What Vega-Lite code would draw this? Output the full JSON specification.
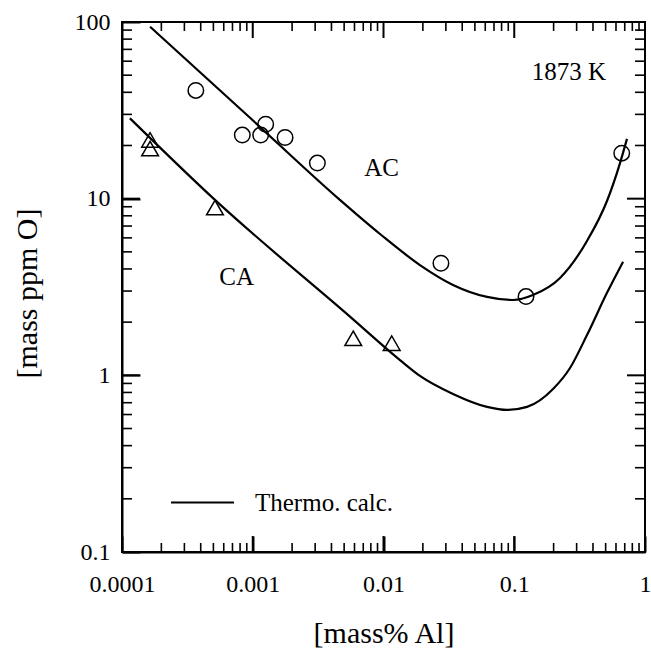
{
  "$schema": "https://vega.github.io/schema/vega-lite/v6.json",
  "width": 523,
  "height": 530,
  "autosize": {"type": "none"},
  "padding": {"left": 122, "top": 22, "right": 6, "bottom": 102},
  "background": "white",
  "config": {
    "view": {"stroke": "black", "strokeWidth": 2},
    "axis": {
      "grid": false,
      "labelColor": "black",
      "labelFont": "Liberation Serif",
      "labelFontSize": 24,
      "titleFont": "Liberation Serif",
      "titleFontSize": 30,
      "titleFontWeight": "normal",
      "titleColor": "black"
    },
    "legend": {"labelFont": "Liberation Serif", "labelFontSize": 25, "labelColor": "black"}
  },
  "datasets": {
    "curves": [
      {"series": "AC", "kind": "Thermo. calc.", "x": 0.000164, "y": 94},
      {"series": "AC", "kind": "Thermo. calc.", "x": 0.000953, "y": 28.7},
      {"series": "AC", "kind": "Thermo. calc.", "x": 0.00464, "y": 9.84},
      {"series": "AC", "kind": "Thermo. calc.", "x": 0.0094, "y": 6.31},
      {"series": "AC", "kind": "Thermo. calc.", "x": 0.019, "y": 4.21},
      {"series": "AC", "kind": "Thermo. calc.", "x": 0.034, "y": 3.25},
      {"series": "AC", "kind": "Thermo. calc.", "x": 0.0619, "y": 2.78},
      {"series": "AC", "kind": "Thermo. calc.", "x": 0.0977, "y": 2.67},
      {"series": "AC", "kind": "Thermo. calc.", "x": 0.139, "y": 2.85},
      {"series": "AC", "kind": "Thermo. calc.", "x": 0.224, "y": 3.56},
      {"series": "AC", "kind": "Thermo. calc.", "x": 0.36, "y": 5.76},
      {"series": "AC", "kind": "Thermo. calc.", "x": 0.512, "y": 9.7},
      {"series": "AC", "kind": "Thermo. calc.", "x": 0.644, "y": 15.9},
      {"series": "AC", "kind": "Thermo. calc.", "x": 0.728, "y": 21.8},
      {"series": "CA", "kind": "Thermo. calc.", "x": 0.000115, "y": 28.5},
      {"series": "CA", "kind": "Thermo. calc.", "x": 0.000514, "y": 9.84},
      {"series": "CA", "kind": "Thermo. calc.", "x": 0.00554, "y": 2.15},
      {"series": "CA", "kind": "Thermo. calc.", "x": 0.01337, "y": 1.22},
      {"series": "CA", "kind": "Thermo. calc.", "x": 0.019, "y": 0.993},
      {"series": "CA", "kind": "Thermo. calc.", "x": 0.034, "y": 0.785},
      {"series": "CA", "kind": "Thermo. calc.", "x": 0.0619, "y": 0.663},
      {"series": "CA", "kind": "Thermo. calc.", "x": 0.0881, "y": 0.637},
      {"series": "CA", "kind": "Thermo. calc.", "x": 0.1253, "y": 0.663},
      {"series": "CA", "kind": "Thermo. calc.", "x": 0.198, "y": 0.837},
      {"series": "CA", "kind": "Thermo. calc.", "x": 0.267, "y": 1.1},
      {"series": "CA", "kind": "Thermo. calc.", "x": 0.36, "y": 1.69},
      {"series": "CA", "kind": "Thermo. calc.", "x": 0.512, "y": 2.93},
      {"series": "CA", "kind": "Thermo. calc.", "x": 0.679, "y": 4.39}
    ],
    "ac": [
      {"x": 0.000367, "y": 41},
      {"x": 0.000832, "y": 22.9},
      {"x": 0.00115, "y": 22.9},
      {"x": 0.001256, "y": 26.4},
      {"x": 0.001767, "y": 22.2},
      {"x": 0.00312, "y": 15.9},
      {"x": 0.0275, "y": 4.31},
      {"x": 0.123, "y": 2.79},
      {"x": 0.664, "y": 18.1}
    ],
    "ca": [
      {"x": 0.000164, "y": 21.5},
      {"x": 0.000164, "y": 19.2},
      {"x": 0.000514, "y": 8.9},
      {"x": 0.00587, "y": 1.62},
      {"x": 0.01156, "y": 1.52}
    ],
    "labels": [
      {"x": 0.262, "y": 52, "text": "1873 K"},
      {"x": 0.00968, "y": 14.9, "text": "AC"},
      {"x": 0.000753, "y": 3.62, "text": "CA"}
    ],
    "xticks": [
      {"v": 0.0001, "major": true}, {"v": 0.0002, "major": false}, {"v": 0.0003, "major": false}, {"v": 0.0004, "major": false}, {"v": 0.0005, "major": false}, {"v": 0.0006, "major": false}, {"v": 0.0007, "major": false}, {"v": 0.0008, "major": false}, {"v": 0.0009, "major": false},
      {"v": 0.001, "major": true}, {"v": 0.002, "major": false}, {"v": 0.003, "major": false}, {"v": 0.004, "major": false}, {"v": 0.005, "major": false}, {"v": 0.006, "major": false}, {"v": 0.007, "major": false}, {"v": 0.008, "major": false}, {"v": 0.009, "major": false},
      {"v": 0.01, "major": true}, {"v": 0.02, "major": false}, {"v": 0.03, "major": false}, {"v": 0.04, "major": false}, {"v": 0.05, "major": false}, {"v": 0.06, "major": false}, {"v": 0.07, "major": false}, {"v": 0.08, "major": false}, {"v": 0.09, "major": false},
      {"v": 0.1, "major": true}, {"v": 0.2, "major": false}, {"v": 0.3, "major": false}, {"v": 0.4, "major": false}, {"v": 0.5, "major": false}, {"v": 0.6, "major": false}, {"v": 0.7, "major": false}, {"v": 0.8, "major": false}, {"v": 0.9, "major": false},
      {"v": 1, "major": true}
    ],
    "yticks": [
      {"v": 0.1, "major": true}, {"v": 0.2, "major": false}, {"v": 0.3, "major": false}, {"v": 0.4, "major": false}, {"v": 0.5, "major": false}, {"v": 0.6, "major": false}, {"v": 0.7, "major": false}, {"v": 0.8, "major": false}, {"v": 0.9, "major": false},
      {"v": 1, "major": true}, {"v": 2, "major": false}, {"v": 3, "major": false}, {"v": 4, "major": false}, {"v": 5, "major": false}, {"v": 6, "major": false}, {"v": 7, "major": false}, {"v": 8, "major": false}, {"v": 9, "major": false},
      {"v": 10, "major": true}, {"v": 20, "major": false}, {"v": 30, "major": false}, {"v": 40, "major": false}, {"v": 50, "major": false}, {"v": 60, "major": false}, {"v": 70, "major": false}, {"v": 80, "major": false}, {"v": 90, "major": false},
      {"v": 100, "major": true}
    ]
  },
  "resolve": {"axis": {"x": "independent", "y": "independent"}},
  "layer": [
    {
      "data": {"name": "curves"},
      "mark": {"type": "line", "strokeWidth": 2.2, "interpolate": "monotone"},
      "encoding": {
        "x": {
          "field": "x", "type": "quantitative",
          "scale": {"type": "log", "domain": [0.0001, 1], "nice": false},
          "axis": {
            "orient": "bottom",
            "title": "[mass% Al]",
            "values": [0.0001, 0.001, 0.01, 0.1, 1],
            "labelExpr": "datum.value + ''",
            "labelFlush": false,
            "labelOverlap": false,
            "ticks": true, "tickColor": "black", "tickWidth": 2, "tickOpacity": 1,
            "tickSize": -16,
            "domain": true, "domainColor": "black", "domainWidth": 2,
            "labelPadding": 36,
            "labelBaseline": "top",
            "titleY": 81,
            "titleBaseline": "middle"
          }
        },
        "y": {
          "field": "y", "type": "quantitative",
          "scale": {"type": "log", "domain": [0.1, 100], "nice": false},
          "axis": {
            "orient": "left",
            "title": "[mass ppm O]",
            "values": [0.1, 1, 10, 100],
            "labelExpr": "datum.value + ''",
            "labelFlush": false,
            "labelOverlap": false,
            "ticks": true, "tickColor": "black", "tickWidth": 2, "tickOpacity": 1,
            "tickSize": -18,
            "domain": true, "domainColor": "black", "domainWidth": 2,
            "labelPadding": 30,
            "titleX": -95,
            "titleY": 271,
            "titleAngle": -90,
            "titleAlign": "center",
            "titleBaseline": "middle"
          }
        },
        "detail": {"field": "series"},
        "stroke": {
          "field": "kind", "type": "nominal",
          "scale": {"range": ["black"]},
          "legend": {
            "orient": "none",
            "legendX": 48,
            "legendY": 448,
            "title": null,
            "symbolType": "stroke",
            "symbolSize": 3969,
            "symbolStrokeWidth": 2,
            "symbolStrokeColor": "black",
            "labelOffset": 20,
            "padding": 0
          }
        }
      }
    },
    {
      "data": {"name": "ac"},
      "mark": {"type": "point", "shape": "circle", "filled": false, "stroke": "black", "strokeWidth": 1.5, "size": 240, "opacity": 1},
      "encoding": {
        "x": {"field": "x", "type": "quantitative", "axis": null},
        "y": {"field": "y", "type": "quantitative", "axis": null}
      }
    },
    {
      "data": {"name": "ca"},
      "mark": {"type": "point", "shape": "triangle-up", "filled": false, "stroke": "black", "strokeWidth": 1.5, "size": 280, "opacity": 1},
      "encoding": {
        "x": {"field": "x", "type": "quantitative", "axis": null},
        "y": {"field": "y", "type": "quantitative", "axis": null}
      }
    },
    {
      "data": {"name": "labels"},
      "mark": {"type": "text", "font": "Liberation Serif", "fontSize": 25, "color": "black", "align": "center", "baseline": "middle"},
      "encoding": {
        "x": {"field": "x", "type": "quantitative", "axis": null},
        "y": {"field": "y", "type": "quantitative", "axis": null},
        "text": {"field": "text"}
      }
    },
    {
      "data": {"name": "xticks"},
      "transform": [{"filter": "datum.major"}],
      "mark": {"type": "tick", "orient": "vertical", "size": 16, "thickness": 2, "color": "black", "opacity": 1, "yOffset": -8},
      "encoding": {
        "x": {"field": "v", "type": "quantitative", "axis": null},
        "y": {"datum": 0.1, "type": "quantitative", "axis": null}
      }
    },
    {
      "data": {"name": "xticks"},
      "transform": [{"filter": "!datum.major"}],
      "mark": {"type": "tick", "orient": "vertical", "size": 9, "thickness": 1.6, "color": "black", "opacity": 1, "yOffset": -4.5},
      "encoding": {
        "x": {"field": "v", "type": "quantitative", "axis": null},
        "y": {"datum": 0.1, "type": "quantitative", "axis": null}
      }
    },
    {
      "data": {"name": "xticks"},
      "transform": [{"filter": "datum.major"}],
      "mark": {"type": "tick", "orient": "vertical", "size": 16, "thickness": 2, "color": "black", "opacity": 1, "yOffset": 8},
      "encoding": {
        "x": {"field": "v", "type": "quantitative", "axis": null},
        "y": {"datum": 100, "type": "quantitative", "axis": null}
      }
    },
    {
      "data": {"name": "xticks"},
      "transform": [{"filter": "!datum.major"}],
      "mark": {"type": "tick", "orient": "vertical", "size": 9, "thickness": 1.6, "color": "black", "opacity": 1, "yOffset": 4.5},
      "encoding": {
        "x": {"field": "v", "type": "quantitative", "axis": null},
        "y": {"datum": 100, "type": "quantitative", "axis": null}
      }
    },
    {
      "data": {"name": "yticks"},
      "transform": [{"filter": "datum.major"}],
      "mark": {"type": "tick", "orient": "horizontal", "size": 18, "thickness": 2, "color": "black", "opacity": 1, "xOffset": 9},
      "encoding": {
        "y": {"field": "v", "type": "quantitative", "axis": null},
        "x": {"datum": 0.0001, "type": "quantitative", "axis": null}
      }
    },
    {
      "data": {"name": "yticks"},
      "transform": [{"filter": "!datum.major"}],
      "mark": {"type": "tick", "orient": "horizontal", "size": 10, "thickness": 1.6, "color": "black", "opacity": 1, "xOffset": 5},
      "encoding": {
        "y": {"field": "v", "type": "quantitative", "axis": null},
        "x": {"datum": 0.0001, "type": "quantitative", "axis": null}
      }
    },
    {
      "data": {"name": "yticks"},
      "transform": [{"filter": "datum.major"}],
      "mark": {"type": "tick", "orient": "horizontal", "size": 18, "thickness": 2, "color": "black", "opacity": 1, "xOffset": -9},
      "encoding": {
        "y": {"field": "v", "type": "quantitative", "axis": null},
        "x": {"datum": 1, "type": "quantitative", "axis": null}
      }
    },
    {
      "data": {"name": "yticks"},
      "transform": [{"filter": "!datum.major"}],
      "mark": {"type": "tick", "orient": "horizontal", "size": 10, "thickness": 1.6, "color": "black", "opacity": 1, "xOffset": -5},
      "encoding": {
        "y": {"field": "v", "type": "quantitative", "axis": null},
        "x": {"datum": 1, "type": "quantitative", "axis": null}
      }
    }
  ]
}
